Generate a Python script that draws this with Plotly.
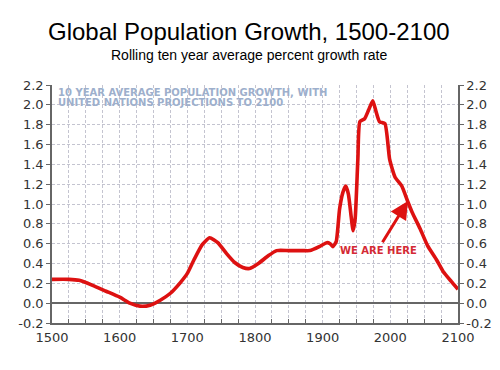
import plotly.graph_objects as go

years = [1500, 1525, 1540, 1560, 1580, 1600, 1615, 1630, 1645, 1660, 1675, 1690, 1700,
         1710, 1722, 1733, 1745, 1758, 1770, 1782, 1792, 1805, 1820, 1832, 1850, 1870,
         1881, 1895, 1906, 1911, 1915, 1920, 1925, 1930, 1934, 1938, 1942, 1945, 1948,
         1952, 1955, 1962, 1968, 1974, 1979, 1984, 1992, 1999, 2007, 2017, 2026, 2032,
         2044, 2055, 2068, 2078, 2090, 2100]
growth = [0.24, 0.24, 0.23, 0.18, 0.12, 0.06, 0.00, -0.03, -0.02, 0.03, 0.10, 0.21, 0.30,
          0.44, 0.59, 0.66, 0.61, 0.50, 0.41, 0.36, 0.35, 0.40, 0.48, 0.53, 0.53, 0.53,
          0.53, 0.57, 0.61, 0.60, 0.57, 0.62, 0.95, 1.12, 1.18, 1.10, 0.88, 0.73, 0.85,
          1.45, 1.83, 1.86, 1.95, 2.04, 1.93, 1.83, 1.81, 1.45, 1.27, 1.18, 1.02, 0.92,
          0.75, 0.58, 0.44, 0.32, 0.22, 0.14]

y_tick_vals = [-0.2, 0.0, 0.2, 0.4, 0.6, 0.8, 1.0, 1.2, 1.4, 1.6, 1.8, 2.0, 2.2]
y_tick_text = ["-0.2", "0.0", "0.2", "0.4", "0.6", "0.8", "1.0", "1.2", "1.4", "1.6",
               "1.8", "2.0", "2.2"]

title = "Global Population Growth, 1500-2100"
subtitle = "Rolling ten year average percent growth rate"
note_lines = ["10 YEAR AVERAGE POPULATION GROWTH, WITH", "UNITED NATIONS PROJECTIONS TO 2100"]
here_label = "WE ARE HERE"
here_text_pos = (1982, 0.53)
arrow_from = (1987, 0.60)
arrow_to = (2026, 1.03)

y_range = [-0.2, 2.2]
x_range = [1500, 2100]

PLOT_H = 238
PLOT_BOTTOM = 315  # in figure pixels

fig = go.Figure()
fig.add_trace(go.Scatter(x=years, y=growth, mode="lines",
                         line=dict(color="#dd1111", width=3.6, shape="spline", smoothing=0.5),
                         hoverinfo="skip", showlegend=False))
# invisible copy so the right-hand axis is drawn
fig.add_trace(go.Scatter(x=years, y=growth, mode="lines", yaxis="y2", opacity=0,
                         line=dict(width=0), hoverinfo="skip", showlegend=False))

tickfont = dict(family="DejaVu Sans, Verdana", size=13, color="#333333")
grid = dict(gridcolor="#c4c4d0", griddash="3px,2px", gridwidth=1)
yaxis_common = dict(range=y_range, tickmode="array", tickvals=y_tick_vals, ticktext=y_tick_text,
                    showline=True, linecolor="#666666", linewidth=1.5,
                    ticks="outside", ticklen=4, tickcolor="#666666", tickfont=tickfont,
                    automargin=False)

fig.update_layout(
    width=492, height=362,
    margin=dict(l=44, r=42, t=77, b=47, autoexpand=False),
    paper_bgcolor="white", plot_bgcolor="white",
    showlegend=False,
    xaxis=dict(range=x_range, dtick=100, tick0=1500, showgrid=True, **grid,
               minor=dict(dtick=25, showgrid=True, ticks="inside", ticklen=4,
                          tickcolor="#666666", **grid),
               zeroline=False, ticks="", showline=True, linecolor="#666666", linewidth=1.5,
               tickfont=tickfont, automargin=False, ticklabelstandoff=2),
    yaxis=dict(showgrid=True, **grid,
               zeroline=True, zerolinecolor="#666666", zerolinewidth=1.5,
               **yaxis_common),
    yaxis2=dict(overlaying="y", side="right", showgrid=False, zeroline=False,
                **yaxis_common),
)

fig.add_annotation(text=title, xref="paper", yref="paper", x=0.485, xanchor="center",
                   y=(PLOT_BOTTOM - 23.5) / PLOT_H, yanchor="middle", showarrow=False,
                   font=dict(family="Liberation Sans, Arial", size=24, color="black"))
fig.add_annotation(text=subtitle, xref="paper", yref="paper", x=0.485, xanchor="center",
                   y=(PLOT_BOTTOM - 46.5) / PLOT_H, yanchor="middle", showarrow=False,
                   font=dict(family="Liberation Sans, Arial", size=14, color="black"))
for i, line in enumerate(note_lines):
    fig.add_annotation(text=line, xref="paper", yref="paper", x=0.01, xanchor="left",
                       y=(PLOT_BOTTOM - (84 + 11 * i)) / PLOT_H, yanchor="middle", showarrow=False,
                       font=dict(family="DejaVu Sans, Verdana", size=10, color="#9dafcc",
                                 weight="bold"))
fig.add_annotation(text=here_label, x=here_text_pos[0], y=here_text_pos[1],
                   xanchor="center", yanchor="middle", showarrow=False,
                   font=dict(family="DejaVu Sans, Verdana", size=10, color="#d42a35", weight="bold"))
fig.add_annotation(x=arrow_to[0], y=arrow_to[1], ax=arrow_from[0], ay=arrow_from[1],
                   xref="x", yref="y", axref="x", ayref="y", text="", showarrow=True,
                   arrowhead=2, arrowsize=1.2, arrowwidth=3, arrowcolor="#dd1111")

fig.write_html("out.html")
